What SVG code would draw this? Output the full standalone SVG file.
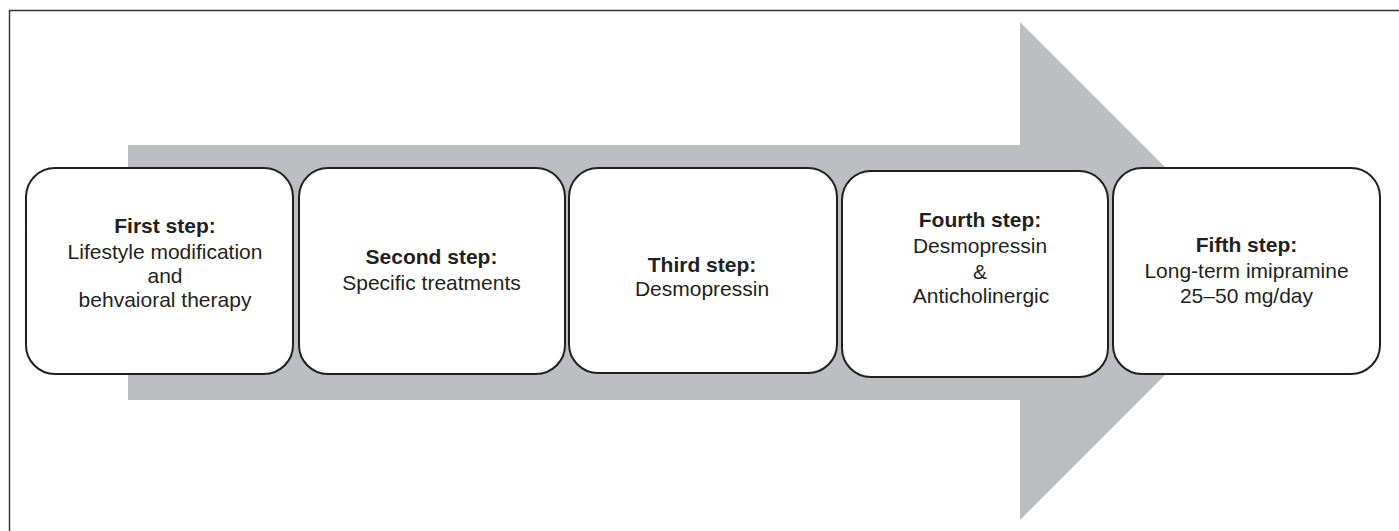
<svg xmlns="http://www.w3.org/2000/svg" width="1399" height="531" viewBox="0 0 1399 531">
<style>
.frame{fill:none;stroke:#333333;stroke-width:1.4}
.arrow{fill:#bcbec0}
.box{fill:#ffffff;stroke:#231f20;stroke-width:2}
text{font-family:"Liberation Sans",Arial,sans-serif;font-size:21px;fill:#231f20;text-anchor:middle}
.t{font-weight:bold}
</style>
<rect x="0" y="0" width="1399" height="531" fill="#ffffff"/>
<path class="frame" d="M9.5,531 V10.5 H1399"/>
<g id="connectors">
<path class="arrow" d="M128,145 H1020 V22 L1269,271 L1020,520 V400 H128 Z"/>
</g>
<g id="step1">
<rect class="box" x="26" y="168" width="267" height="206" rx="29" ry="29"/>
<text x="165" y="233"><tspan class="t">First step:</tspan></text>
<text x="165" y="259">Lifestyle modification</text>
<text x="165" y="283">and</text>
<text x="165" y="307">behvaioral therapy</text>
</g>
<g id="step2">
<rect class="box" x="299" y="168" width="266" height="206" rx="29" ry="29"/>
<text x="431.5" y="264" class="t">Second step:</text>
<text x="431.5" y="290">Specific treatments</text>
</g>
<g id="step3">
<rect class="box" x="569" y="168" width="268" height="205" rx="29" ry="29"/>
<text x="702" y="272" class="t">Third step:</text>
<text x="702" y="296">Desmopressin</text>
</g>
<g id="step4">
<rect class="box" x="842" y="171" width="266" height="206" rx="29" ry="29"/>
<text x="980" y="227" class="t">Fourth step:</text>
<text x="980" y="253">Desmopressin</text>
<text x="980" y="279">&amp;</text>
<text x="981" y="303">Anticholinergic</text>
</g>
<g id="step5">
<rect class="box" x="1113" y="168" width="267" height="206" rx="29" ry="29"/>
<text x="1246.5" y="252" class="t">Fifth step:</text>
<text x="1246.5" y="278">Long-term imipramine</text>
<text x="1246.5" y="303">25–50 mg/day</text>
</g>
</svg>
